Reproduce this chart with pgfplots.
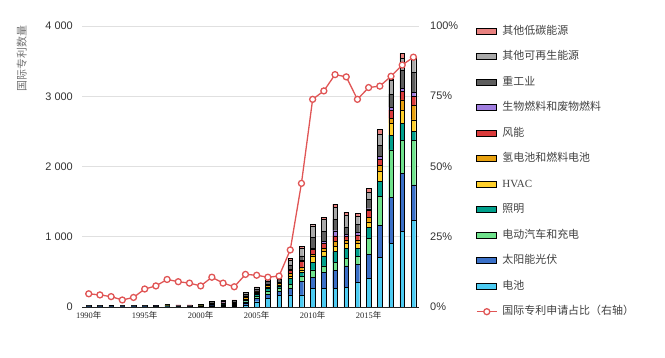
\documentclass[border=0pt]{standalone}
\usepackage{fontspec}
\setmainfont{Liberation Sans}
\newfontfamily\cjk{Noto Sans CJK SC}
\newfontfamily\serif{Liberation Serif}
\usepackage{pgfplots}
\usepackage{pgfplotstable}
\pgfplotsset{compat=1.18}

\definecolor{cOLC}{HTML}{E8817F}
\definecolor{cORE}{HTML}{A9A9A9}
\definecolor{cHEAVY}{HTML}{5E5E5E}
\definecolor{cBIO}{HTML}{A07EE0}
\definecolor{cWIND}{HTML}{DA3B3B}
\definecolor{cHTWO}{HTML}{E8A10F}
\definecolor{cHVAC}{HTML}{FFD02B}
\definecolor{cLIGHT}{HTML}{00A08C}
\definecolor{cEV}{HTML}{6FE28C}
\definecolor{cPV}{HTML}{3A70C8}
\definecolor{cBAT}{HTML}{4CCBF2}
\definecolor{cLINE}{HTML}{E05555}

\pgfplotstableread{
year bat pv ev lt hvac htwo wind bio heavy oren olc
1990 2 2 1 2 1 2 1 0 7 1 1
1991 2 2 1 2 1 2 1 0 7 1 1
1992 2 2 1 2 1 2 1 1 7 2 1
1993 2 2 1 2 1 2 1 0 7 1 1
1994 2 2 1 2 1 2 1 0 7 1 1
1995 2 2 1 2 1 2 1 0 7 1 1
1996 3 3 1 3 1 2 1 1 8 1 1
1997 4 4 2 6 2 3 2 1 8 2 1
1998 3 3 2 3 2 3 1 1 9 2 1
1999 3 3 2 3 2 3 1 1 9 2 1
2000 5 5 3 3 2 5 2 1 10 3 1
2001 10 8 5 5 8 12 5 2 22 6 2
2002 10 10 6 6 8 14 5 2 25 7 2
2003 12 10 6 6 8 14 6 2 26 8 2
2004 30 25 20 20 15 25 12 5 35 17 5
2005 75 45 35 25 15 20 10 5 30 20 5
2006 120 65 45 35 20 25 15 5 35 30 5
2007 165 60 40 35 15 20 15 5 35 35 5
2008 171 95 61 81 33 38 38 19 62 71 24
2009 171 190 71 57 38 38 80 24 57 109 33
2010 266 157 104 104 86 37 67 14 157 165 24
2011 266 223 95 142 62 47 72 23 142 176 29
2012 266 251 114 157 71 71 81 75 162 171 47
2013 280 304 109 142 72 47 47 38 104 167 42
2014 346 266 105 118 72 47 71 33 123 105 47
2015 405 349 223 152 81 71 95 23 129 108 49
2016 702 465 413 204 142 91 85 38 166 157 66
2017 907 650 678 213 166 72 118 38 190 199 10
2018 1075 828 474 237 190 143 118 48 261 166 71
2019 1230 507 640 125 160 210 130 50 290 195 10
}\bars

\pgfplotstableread{
year share
1990 4.7
1991 4.3
1992 3.7
1993 2.5
1994 3.4
1995 6.4
1996 7.5
1997 9.8
1998 9.0
1999 8.5
2000 7.5
2001 10.6
2002 8.5
2003 7.2
2004 11.6
2005 11.3
2006 10.6
2007 11.0
2008 20.3
2009 44.0
2010 73.9
2011 76.9
2012 82.7
2013 81.9
2014 73.9
2015 78.1
2016 78.6
2017 82.1
2018 86.1
2019 88.9
}\share

\pgfplotsset{
  mybar/.style={fill=#1, draw=black, line width=0.4bp,
    legend image code/.code={\draw[##1, line width=0.8bp] (0bp,-3bp) rectangle (20bp,3bp);}},
  mylinelegend/.style={legend image code/.code={\draw[##1, sharp plot, mark repeat=2, mark phase=2] plot coordinates {(0bp,0bp) (10bp,0bp) (20bp,0bp)};}},
}

\begin{document}
\begin{tikzpicture}
\useasboundingbox (0,0) rectangle (665bp,358bp);
\begin{axis}[
  at={(82bp,51bp)}, anchor=south west,
  scale only axis, width=337bp, height=281bp,
  ybar stacked, bar width=4.6bp,
  xmin=1989.4, xmax=2019.5, ymin=0, ymax=4000,
  axis lines*=left, y axis line style={draw=none},
  x axis line style={black!85, line width=0.9bp},
  major tick length=0pt,
  ytick={0,1000,2000,3000,4000},
  yticklabels={0,1 000,2 000,3 000,4 000},
  yticklabel style={font=\fontsize{11}{11}\selectfont, text=black!80, inner sep=0pt, xshift=-9bp},
  xtick={1990,1995,2000,2005,2010,2015},
  xticklabels={{\serif 1990}{\cjk 年},{\serif 1995}{\cjk 年},{\serif 2000}{\cjk 年},{\serif 2005}{\cjk 年},{\serif 2010}{\cjk 年},{\serif 2015}{\cjk 年}},
  xticklabel style={font=\fontsize{8.5}{8.5}\selectfont, text=black!85, inner sep=1bp, yshift=-3bp},
  ymajorgrids, grid style={black!12, line width=0.7bp},
  ylabel={\cjk 国际专利数量},
  every axis y label/.style={at={(rel axis cs:-0.1786,0.883)}, rotate=90, anchor=center, font=\fontsize{11}{11}\selectfont, text=black!55},
  legend style={at={(rel axis cs:1.169,1.0036)}, anchor=north west, draw=none, fill=none, inner sep=0pt,
    font=\fontsize{11}{11}\selectfont\cjk, text=black!75, row sep=13.5bp, column sep=4bp,
    cells={anchor=west}, nodes={inner sep=1bp, text height=8bp, text depth=2bp}},
  reverse legend,
]
\addlegendimage{mylinelegend, cLINE, line width=1.3bp, mark=*, mark size=3bp, mark options={fill=white, solid}}
\addlegendentry{国际专利申请占比（右轴）}
\addplot[mybar=cBAT] table[x=year, y=bat] {\bars}; \addlegendentry{电池}
\addplot[mybar=cPV] table[x=year, y=pv] {\bars}; \addlegendentry{太阳能光伏}
\addplot[mybar=cEV] table[x=year, y=ev] {\bars}; \addlegendentry{电动汽车和充电}
\addplot[mybar=cLIGHT] table[x=year, y=lt] {\bars}; \addlegendentry{照明}
\addplot[mybar=cHVAC] table[x=year, y=hvac] {\bars}; \addlegendentry{{\serif HVAC}}
\addplot[mybar=cHTWO] table[x=year, y=htwo] {\bars}; \addlegendentry{氢电池和燃料电池}
\addplot[mybar=cWIND] table[x=year, y=wind] {\bars}; \addlegendentry{风能}
\addplot[mybar=cBIO] table[x=year, y=bio] {\bars}; \addlegendentry{生物燃料和废物燃料}
\addplot[mybar=cHEAVY] table[x=year, y=heavy] {\bars}; \addlegendentry{重工业}
\addplot[mybar=cORE] table[x=year, y=oren] {\bars}; \addlegendentry{其他可再生能源}
\addplot[mybar=cOLC] table[x=year, y=olc] {\bars}; \addlegendentry{其他低碳能源}
\end{axis}
\begin{axis}[
  at={(82bp,51bp)}, anchor=south west,
  scale only axis, width=337bp, height=281bp,
  xmin=1989.4, xmax=2019.5, ymin=0, ymax=100,
  axis x line=none, axis y line*=right, y axis line style={draw=none},
  major tick length=0pt,
  ytick={0,25,50,75,100},
  yticklabels={0\%,25\%,50\%,75\%,100\%},
  yticklabel style={font=\fontsize{11}{11}\selectfont, text=black!80, inner sep=0pt, anchor=west, xshift=11bp},
]
\addplot[cLINE, line width=1.3bp, mark=*, mark size=3bp, mark options={fill=white}] table[x=year, y=share] {\share};
\end{axis}
\end{tikzpicture}
\end{document}
